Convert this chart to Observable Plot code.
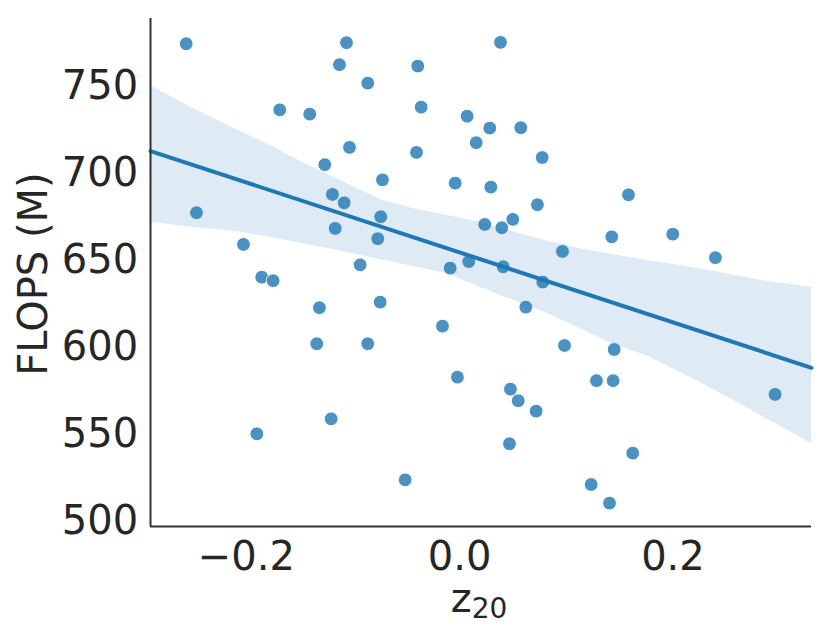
<!DOCTYPE html>
<html>
<head>
<meta charset="utf-8">
<script src="https://cdn.jsdelivr.net/npm/d3@7"></script>
<script src="https://cdn.jsdelivr.net/npm/@observablehq/plot@0.6"></script>
<style>
  html, body { margin: 0; padding: 0; background: #fff; }
  svg { display: block; }
</style>
</head>
<body>
<div id="chart"></div>
<script>
// Scatter points (z20, FLOPS in millions)
const pointX = [-0.2564, -0.1061, -0.1127, -0.0393, -0.0862, -0.1687, -0.1406, -0.0361, 0.0070, 0.0155,
  -0.1033, -0.0405, -0.1265, -0.0724, -0.0042, -0.1193, -0.1083, -0.2468, -0.0740, 0.0235,
  -0.1167, -0.0768, -0.2027, -0.0933, -0.0089, 0.0085, 0.0383, 0.0282, 0.0573, 0.0774,
  0.0292, 0.1583, 0.0729, 0.0395, 0.0498, 0.1426, 0.1998, 0.0964, 0.2398, 0.0408,
  0.0779, 0.0620, 0.0983, 0.1449, -0.0021, 0.1283, 0.1439, 0.0476, 0.0549, 0.0717,
  0.2958, 0.0467, 0.1623, 0.1233, 0.1405, -0.1856, -0.1749, -0.1315, -0.0745, -0.0161,
  -0.1340, -0.0862, -0.1205, -0.1902, -0.0511];
const pointY = [774.1, 774.7, 762.1, 761.3, 751.5, 736.2, 733.7, 737.7, 732.5, 717.3,
  714.6, 711.7, 704.7, 696.0, 694.1, 687.6, 682.8, 677.1, 674.8, 670.4,
  668.1, 662.2, 658.9, 647.2, 645.3, 649.1, 774.9, 725.7, 725.9, 708.8,
  691.8, 687.4, 681.7, 668.5, 673.3, 663.3, 664.8, 654.9, 651.3, 646.1,
  637.3, 622.9, 600.9, 598.6, 582.7, 580.7, 580.7, 575.8, 569.2, 563.2,
  572.8, 544.5, 539.1, 521.1, 510.4, 640.1, 638.1, 622.6, 625.8, 612.0,
  601.9, 601.9, 558.8, 550.2, 523.8];

// Regression fit line at the axis limits
const fitX = [-0.2899, 0.3299];
const fitY = [712.5, 588.1];

// Confidence band
const bandX = [-0.2899, -0.2524, -0.2055, -0.1746, -0.1465, -0.1118, -0.0743, -0.0433, -0.0114, 0.0195,
  0.0504, 0.0823, 0.1132, 0.1442, 0.1761, 0.2258, 0.2821, 0.3299];
const bandHigh = [750.2, 737.7, 723.8, 714.8, 705.7, 695.6, 684.7, 679.4, 675.5, 671.7,
  666.0, 660.8, 656.4, 653.0, 649.7, 644.9, 638.2, 634.4];
const bandLow = [671.7, 668.9, 666.0, 662.6, 659.3, 655.2, 650.3, 646.3, 642.1, 634.2,
  626.8, 619.1, 610.5, 601.5, 594.9, 579.7, 560.8, 544.7];

// Axes
const xDomain = [-0.2899, 0.3299];
const yDomain = [497.0, 788.6];
const xTicks = [-0.2, 0.0, 0.2];
const yTicks = [500, 550, 600, 650, 700, 750];
const xLabel = "z";
const xLabelSub = "20";
const yLabel = "FLOPS (M)";

const points = pointX.map((x, i) => ({x, y: pointY[i]}));
const fit = fitX.map((x, i) => ({x, y: fitY[i]}));
const band = bandX.map((x, i) => ({x, lo: bandLow[i], hi: bandHigh[i]}));

const blue = "#1f77b4";
const ink = "#262626";
const font = "DejaVu Sans";

const plot = Plot.plot({
  width: 830,
  height: 639,
  marginLeft: 150,
  marginRight: 19,
  marginTop: 18,
  marginBottom: 113,
  style: {fontFamily: font, background: "#fff"},
  x: {domain: xDomain},
  y: {domain: yDomain},
  marks: [
    Plot.dot(points, {x: "x", y: "y", r: 6.9, fill: blue, stroke: "#fff", strokeWidth: 1, opacity: 0.8}),
    Plot.areaY(band, {x: "x", y1: "lo", y2: "hi", fill: blue, fillOpacity: 0.15}),
    Plot.line(fit, {x: "x", y: "y", stroke: blue, strokeWidth: 4}),
    Plot.axisX({ticks: xTicks, tickSize: 0, tickPadding: 14.8, fontSize: 40, fill: ink, label: null,
      tickFormat: d => d3.format(".1f")(d).replace("-", "\u2212")}),
    Plot.axisY({ticks: yTicks, tickSize: 0, tickPadding: 12.4, fontSize: 40, fill: ink, label: null,
      tickFormat: d => String(d)}),
    Plot.ruleY([yDomain[0]], {stroke: "#333", strokeWidth: 2}),
    Plot.ruleX([xDomain[0]], {stroke: "#333", strokeWidth: 2})
  ]
});

const svg = d3.select(plot);
const tx = svg.append("text")
  .attr("x", 479).attr("y", 611.7)
  .attr("text-anchor", "middle")
  .attr("font-family", font).attr("font-size", 40).attr("fill", ink);
tx.append("tspan").text(xLabel);
tx.append("tspan").attr("font-size", 28).attr("dy", 6.3).text(xLabelSub);

svg.append("text")
  .attr("transform", "translate(47,274) rotate(-90)")
  .attr("text-anchor", "middle")
  .attr("font-family", font).attr("font-size", 40).attr("fill", ink)
  .text(yLabel);

document.getElementById("chart").appendChild(plot);
</script>
</body>
</html>
